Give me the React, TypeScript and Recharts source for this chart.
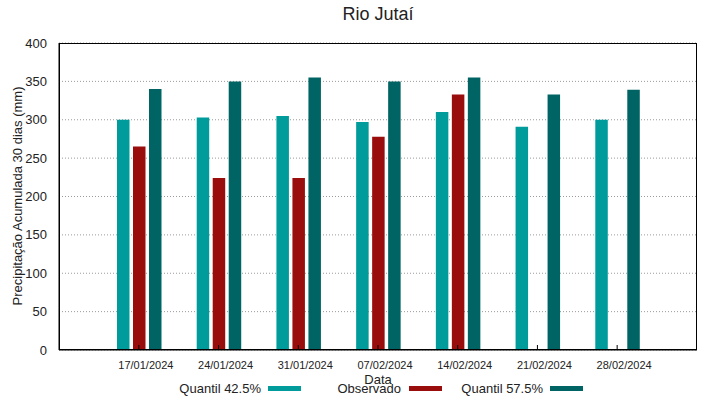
import {
  Bar,
  BarChart,
  CartesianGrid,
  XAxis,
  YAxis,
} from "recharts";

const categories = [
  "17/01/2024",
  "24/01/2024",
  "31/01/2024",
  "07/02/2024",
  "14/02/2024",
  "21/02/2024",
  "28/02/2024",
];
const quantil425 = [300, 303, 305, 297, 310, 291, 300];
const observado: (number | null)[] = [265, 224, 224, 278, 333, null, null];
const quantil575 = [340, 350, 355, 350, 355, 333, 339];
const yTicks = [0, 50, 100, 150, 200, 250, 300, 350, 400];

const data = categories.map((date, i) => ({
  date,
  q425: quantil425[i],
  obs: observado[i],
  q575: quantil575[i],
}));

const FONT = '"Liberation Sans", Arial, sans-serif';
const TEAL = "#009c9c";
const RED = "#990d0d";
const DARK = "#006464";

const legendItems = [
  { label: "Quantil 42.5%", color: TEAL, right: 261, sample: 268 },
  { label: "Observado", color: RED, right: 401, sample: 409 },
  { label: "Quantil 57.5%", color: DARK, right: 543, sample: 550 },
];

const DateTick = (props: any) => {
  const { x, y, payload } = props;
  return (
    <text
      x={x + 7}
      y={y + 22}
      textAnchor="middle"
      fontSize={11}
      fontFamily={FONT}
      fill="#222"
    >
      {payload.value}
    </text>
  );
};

export default function App() {
  return (
    <div
      style={{
        position: "absolute",
        left: 0,
        top: 0,
        width: 719,
        height: 399,
        background: "#fff",
        fontFamily: FONT,
        color: "#222",
      }}
    >
      <BarChart
        width={719}
        height={399}
        data={data}
        margin={{ top: 43, right: 22, left: 0, bottom: 0 }}
        barSize={12.5}
        barGap={3.5}
      >
        <CartesianGrid
          vertical={false}
          stroke="#9a9a9a"
          strokeDasharray="1 2"
        />
        <XAxis
          dataKey="date"
          height={49}
          padding={{ left: 40, right: 40 }}
          axisLine={{ stroke: "#000" }}
          tickLine={{ stroke: "#000" }}
          tickSize={-5}
          tick={<DateTick />}
          interval={0}
        />
        <YAxis
          width={59}
          domain={[0, 400]}
          ticks={yTicks}
          axisLine={{ stroke: "#000" }}
          tickLine={false}
          tickMargin={6}
          tick={{ fontSize: 13, fill: "#222", fontFamily: FONT }}
        />
        <Bar dataKey="q425" fill={TEAL} isAnimationActive={false} />
        <Bar dataKey="obs" fill={RED} isAnimationActive={false} />
        <Bar dataKey="q575" fill={DARK} isAnimationActive={false} />
      </BarChart>

      {/* plot frame (gnuplot border) */}
      <div
        style={{
          position: "absolute",
          left: 59,
          top: 43,
          width: 638,
          height: 307,
          border: "1px solid #000",
          boxSizing: "border-box",
          pointerEvents: "none",
        }}
      />

      <div
        style={{
          position: "absolute",
          left: 0,
          width: 756,
          top: 4,
          textAlign: "center",
          fontSize: 18,
        }}
      >
        Rio Jutaí
      </div>

      <div
        style={{
          position: "absolute",
          left: 17,
          top: 196,
          fontSize: 13,
          whiteSpace: "nowrap",
          transform: "translate(-50%, -50%) rotate(-90deg)",
        }}
      >
        Precipitação Acumulada 30 dias (mm)
      </div>

      <div
        style={{
          position: "absolute",
          left: 378,
          top: 379,
          fontSize: 13,
          transform: "translate(-50%, -50%)",
        }}
      >
        Data
      </div>

      {legendItems.map((item) => (
        <div key={item.label}>
          <div
            style={{
              position: "absolute",
              right: 719 - item.right,
              top: 388,
              fontSize: 13,
              whiteSpace: "nowrap",
              transform: "translateY(-50%)",
            }}
          >
            {item.label}
          </div>
          <div
            style={{
              position: "absolute",
              left: item.sample,
              top: 386,
              width: 33,
              height: 5,
              background: item.color,
            }}
          />
        </div>
      ))}
    </div>
  );
}
